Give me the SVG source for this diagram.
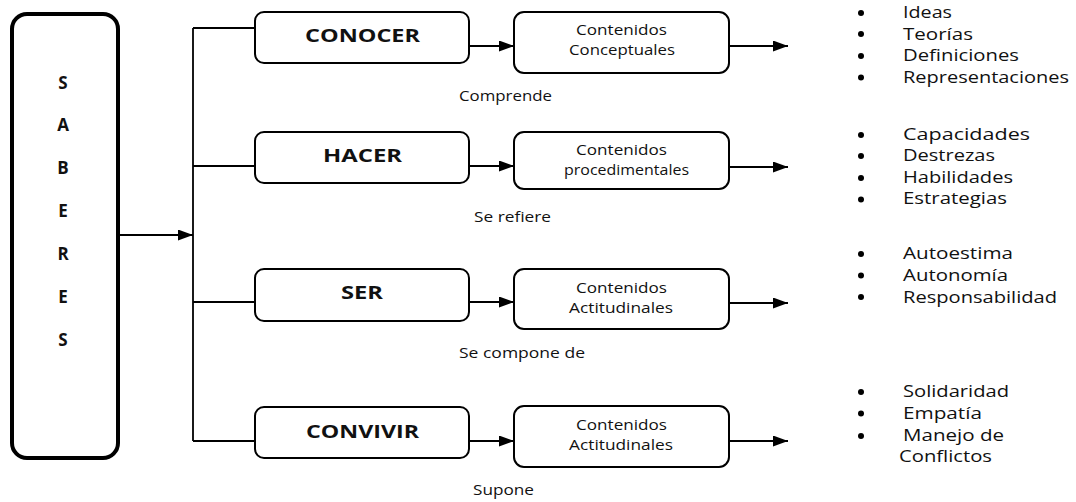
<svg xmlns="http://www.w3.org/2000/svg" width="1076" height="502" viewBox="0 0 1076 502">
<defs>
<marker id="ah" markerWidth="15" markerHeight="11" refX="15" refY="5.5" orient="auto" markerUnits="userSpaceOnUse">
<path d="M0,0 L15,5.5 L0,11 Z" fill="#000"/>
</marker>
<style>
.box{fill:#fff;stroke:#000;stroke-width:2}
.big{fill:#fff;stroke:#000;stroke-width:4}
.ln{fill:none;stroke:#000;stroke-width:1.8}
.arr{fill:none;stroke:#000;stroke-width:1.8;marker-end:url(#ah)}
text{font-family:"Open Sans","Noto Sans","DejaVu Sans",sans-serif;fill:#111}
.lbl{font-size:18.5px;font-weight:bold;text-anchor:middle}
.let{font-size:17px;font-weight:bold;text-anchor:middle}
.ct{font-size:14px;text-anchor:middle}
.rel{font-size:14px}
.bl{font-size:15.5px}
.dot{fill:#000}
</style>
</defs>
<rect width="1076" height="502" fill="#fff"/>

<g id="saberes">
<rect class="big" x="12" y="14" width="106" height="444" rx="15"/>
<text class="let" x="63" y="89">S</text>
<text class="let" x="63" y="131">A</text>
<text class="let" x="63" y="174">B</text>
<text class="let" x="63" y="217">E</text>
<text class="let" x="63" y="260">R</text>
<text class="let" x="63" y="303">E</text>
<text class="let" x="63" y="346">S</text>
</g>

<g id="connectors">
<line class="arr" x1="120" y1="235" x2="193" y2="235"/>
<line class="ln" x1="193" y1="28" x2="193" y2="441"/>
<line class="ln" x1="193" y1="28" x2="255" y2="28"/>
<line class="ln" x1="193" y1="166" x2="255" y2="166"/>
<line class="ln" x1="193" y1="302" x2="255" y2="302"/>
<line class="ln" x1="193" y1="441" x2="255" y2="441"/>
<line class="arr" x1="469" y1="46" x2="514" y2="46"/>
<line class="arr" x1="469" y1="166" x2="514" y2="166"/>
<line class="arr" x1="469" y1="302" x2="514" y2="302"/>
<line class="arr" x1="469" y1="441" x2="514" y2="441"/>
<line class="arr" x1="729" y1="46" x2="788" y2="46"/>
<line class="arr" x1="729" y1="167" x2="788" y2="167"/>
<line class="arr" x1="729" y1="303" x2="788" y2="303"/>
<line class="arr" x1="729" y1="441" x2="788" y2="441"/>
</g>

<g id="conocer">
<rect class="box" x="255" y="12" width="214" height="51" rx="9"/>
<text class="lbl" x="362.5" y="42" textLength="115" lengthAdjust="spacingAndGlyphs">CONOCER</text>
</g>
<g id="hacer">
<rect class="box" x="255" y="132" width="214" height="51" rx="9"/>
<text class="lbl" x="362.5" y="162" textLength="79" lengthAdjust="spacingAndGlyphs">HACER</text>
</g>
<g id="ser">
<rect class="box" x="255" y="269" width="214" height="52" rx="9"/>
<text class="lbl" x="362" y="299" textLength="42" lengthAdjust="spacingAndGlyphs">SER</text>
</g>
<g id="convivir">
<rect class="box" x="255" y="407" width="214" height="51" rx="9"/>
<text class="lbl" x="362.5" y="438" textLength="113" lengthAdjust="spacingAndGlyphs">CONVIVIR</text>
</g>

<g id="conceptuales">
<rect class="box" x="514" y="12" width="215" height="61" rx="10"/>
<text class="ct" x="621.5" y="35" textLength="91" lengthAdjust="spacingAndGlyphs">Contenidos</text>
<text class="ct" x="622" y="55" textLength="106" lengthAdjust="spacingAndGlyphs">Conceptuales</text>
</g>
<g id="procedimentales">
<rect class="box" x="514" y="132" width="215" height="57" rx="10"/>
<text class="ct" x="621.5" y="155" textLength="91" lengthAdjust="spacingAndGlyphs">Contenidos</text>
<text class="ct" x="626.5" y="175" textLength="125" lengthAdjust="spacingAndGlyphs">procedimentales</text>
</g>
<g id="actitudinales1">
<rect class="box" x="514" y="269" width="215" height="60" rx="10"/>
<text class="ct" x="621.5" y="293" textLength="91" lengthAdjust="spacingAndGlyphs">Contenidos</text>
<text class="ct" x="621" y="313" textLength="104" lengthAdjust="spacingAndGlyphs">Actitudinales</text>
</g>
<g id="actitudinales2">
<rect class="box" x="514" y="406" width="215" height="61" rx="10"/>
<text class="ct" x="621.5" y="430" textLength="91" lengthAdjust="spacingAndGlyphs">Contenidos</text>
<text class="ct" x="621" y="450" textLength="104" lengthAdjust="spacingAndGlyphs">Actitudinales</text>
</g>

<g id="relations">
<text class="rel" x="459" y="101" textLength="93" lengthAdjust="spacingAndGlyphs">Comprende</text>
<text class="rel" x="474" y="222" textLength="77" lengthAdjust="spacingAndGlyphs">Se refiere</text>
<text class="rel" x="459" y="358" textLength="126" lengthAdjust="spacingAndGlyphs">Se compone de</text>
<text class="rel" x="473" y="495" textLength="61" lengthAdjust="spacingAndGlyphs">Supone</text>
</g>

<g id="list-conocer">
<circle class="dot" cx="861" cy="13" r="3"/>
<circle class="dot" cx="861" cy="34" r="3"/>
<circle class="dot" cx="861" cy="56" r="3"/>
<circle class="dot" cx="861" cy="77.5" r="3"/>
<text class="bl" x="903" y="18" textLength="49" lengthAdjust="spacingAndGlyphs">Ideas</text>
<text class="bl" x="903" y="39.5" textLength="70" lengthAdjust="spacingAndGlyphs">Teorías</text>
<text class="bl" x="903" y="61" textLength="116" lengthAdjust="spacingAndGlyphs">Definiciones</text>
<text class="bl" x="903" y="82.5" textLength="166" lengthAdjust="spacingAndGlyphs">Representaciones</text>
</g>
<g id="list-hacer">
<circle class="dot" cx="861" cy="135" r="3"/>
<circle class="dot" cx="861" cy="156" r="3"/>
<circle class="dot" cx="861" cy="178" r="3"/>
<circle class="dot" cx="861" cy="199.5" r="3"/>
<text class="bl" x="903" y="139.5" textLength="127" lengthAdjust="spacingAndGlyphs">Capacidades</text>
<text class="bl" x="903" y="161" textLength="92" lengthAdjust="spacingAndGlyphs">Destrezas</text>
<text class="bl" x="903" y="182.5" textLength="110" lengthAdjust="spacingAndGlyphs">Habilidades</text>
<text class="bl" x="903" y="204" textLength="104" lengthAdjust="spacingAndGlyphs">Estrategias</text>
</g>
<g id="list-ser">
<circle class="dot" cx="861" cy="254" r="3"/>
<circle class="dot" cx="861" cy="275.5" r="3"/>
<circle class="dot" cx="861" cy="297" r="3"/>
<text class="bl" x="903" y="258.5" textLength="110" lengthAdjust="spacingAndGlyphs">Autoestima</text>
<text class="bl" x="903" y="281" textLength="105" lengthAdjust="spacingAndGlyphs">Autonomía</text>
<text class="bl" x="903" y="302.5" textLength="154" lengthAdjust="spacingAndGlyphs">Responsabilidad</text>
</g>
<g id="list-convivir">
<circle class="dot" cx="861" cy="392" r="3"/>
<circle class="dot" cx="861" cy="413.5" r="3"/>
<circle class="dot" cx="861" cy="436" r="3"/>
<text class="bl" x="903" y="397" textLength="106" lengthAdjust="spacingAndGlyphs">Solidaridad</text>
<text class="bl" x="903" y="418.5" textLength="79" lengthAdjust="spacingAndGlyphs">Empatía</text>
<text class="bl" x="903" y="440.5" textLength="101" lengthAdjust="spacingAndGlyphs">Manejo de</text>
<text class="bl" x="899" y="462" textLength="93" lengthAdjust="spacingAndGlyphs">Conflictos</text>
</g>
</svg>
